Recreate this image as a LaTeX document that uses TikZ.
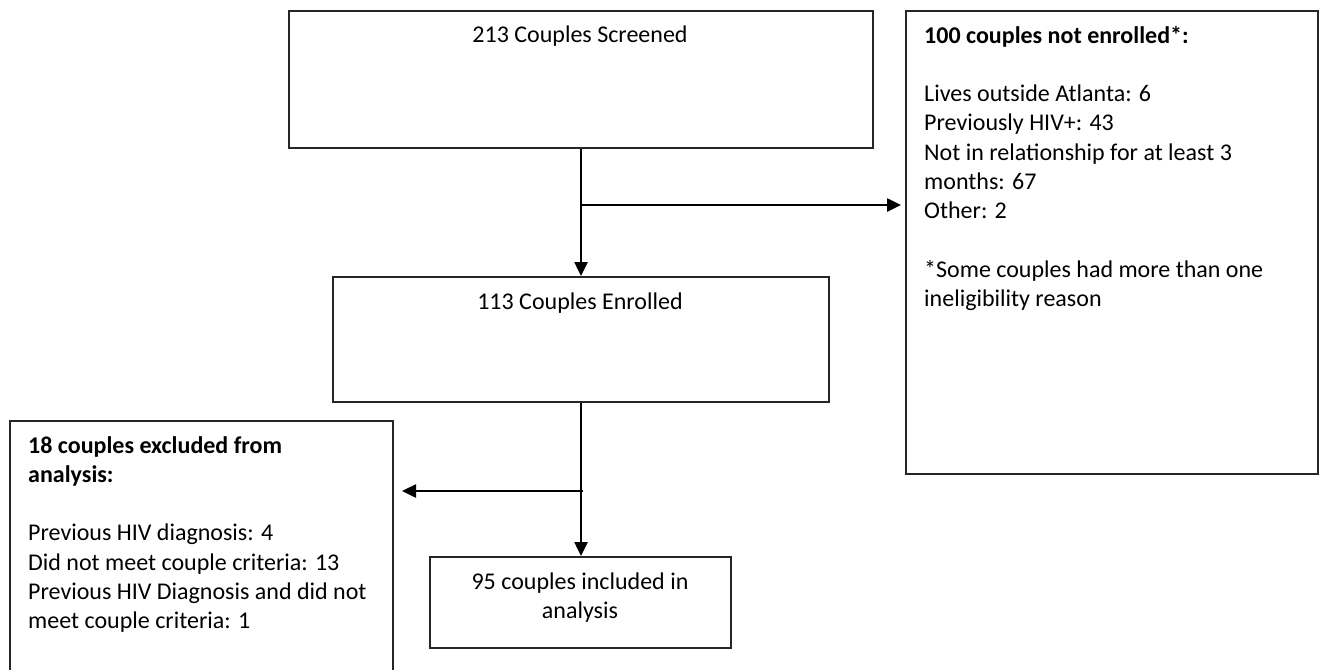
\documentclass[tikz,border=0pt]{standalone}
\usepackage{fontspec}
\setmainfont{Carlito}
\usetikzlibrary{arrows.meta}
\tikzset{
  box/.style={draw=black!85, line width=2pt, rectangle, inner sep=0pt, anchor=north west},
  txt/.style={inner sep=0pt, anchor=base west, font=\fontsize{24}{29.3}\selectfont, align=left},
  ctxt/.style={inner sep=0pt, anchor=base, font=\fontsize{24}{29.3}\selectfont},
  conn/.style={line width=2.5pt, draw=black},
  arr/.style={conn, -{Triangle[length=14pt,width=13pt]}}
}
\begin{document}
\begin{tikzpicture}[x=1pt,y=-1pt]
\useasboundingbox (0,0) rectangle (1324,669);
\fill[white] (0,0) rectangle (1324,669);
\begin{scope}
\clip (0,0) rectangle (1324,669);
% boxes
\node[box, minimum width=584pt, minimum height=137pt] (A) at (288,10) {};
\node[box, minimum width=412pt, minimum height=463pt] (B) at (905,10) {};
\node[box, minimum width=496pt, minimum height=125pt] (C) at (332,276) {};
\node[box, minimum width=383pt, minimum height=270pt] (D) at (9,420) {};
\node[box, minimum width=301pt, minimum height=91pt] (E) at (429,556) {};
\end{scope}
% texts
\node[ctxt] (tA) at (580,43) {213 Couples Screened};
\node[ctxt] (tC) at (580,309) {113 Couples Enrolled};
\node[ctxt] (tE1) at (580,589) {95 couples included in};
\node[ctxt] (tE2) at (580,618) {analysis};
\node[txt] (tB) at (924,306.7) {\textbf{100 couples not enrolled*:}\\[29.3pt]
Lives outside Atlanta: 6\\
Previously HIV+: 43\\
Not in relationship for at least 3\\
months: 67\\
Other: 2\\[29.3pt]
*Some couples had more than one\\
ineligibility reason};
\node[txt] (tD) at (28,628.8) {\textbf{18 couples excluded from}\\
\textbf{analysis:}\\[29.3pt]
Previous HIV diagnosis: 4\\
Did not meet couple criteria: 13\\
Previous HIV Diagnosis and did not\\
meet couple criteria: 1};
% connectors
\coordinate (j1) at (580,205);
\coordinate (j2) at (583,491);
\draw[arr] (A.south) -- (C.north);
\draw[arr, shorten >=4pt] (j1) -- (j1 -| B.west);
\draw[arr] (C.south) -- (E.north -| C.south);
\draw[arr, shorten >=8pt] (j2) -- (j2 -| D.east);
\end{tikzpicture}
\end{document}
